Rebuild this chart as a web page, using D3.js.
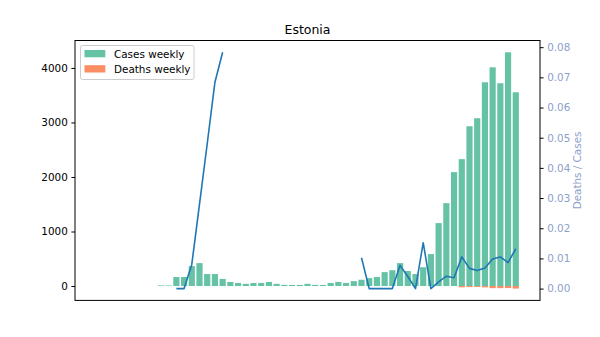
<!DOCTYPE html>
<html>
<head>
<meta charset="utf-8">
<script src="https://cdn.jsdelivr.net/npm/d3@7"></script>
<style>
  body { margin: 0; background: #fff; }
  svg { display: block; font-family: "DejaVu Sans", sans-serif; }
</style>
</head>
<body>
<svg id="chart" width="600" height="337"></svg>
<script>
const title = "Estonia";
const seriesNames = ["Cases weekly", "Deaths weekly"];
const rightLabel = "Deaths / Cases";

const casesWeekly = [0,0,0,0,0,0,0,0,12,12,
  165,165,365,420,220,220,130,75,55,40,
  55,55,75,40,20,20,20,40,20,20,
  55,75,55,90,115,145,165,255,290,420,
  275,220,345,586,1154,1520,2089,2327,2931,3078,
  3738,4012,3720,4287,3554];

const deathsWeekly = [0,0,0,0,0,0,0,0,0,0,
  0,0,0,0,0,0,0,0,0,0,
  0,0,0,0,0,0,0,0,0,0,
  0,0,0,0,0,0,0,0,0,0,
  0,0,0,0,0,0,0,24,20,18,
  25,39,39,37,47];

const deathsPerCases = [null,null,null,null,null,null,null,null,null,null,
  0,0,0.008,0.028,0.048,0.0684,0.0783,null,null,null,
  null,null,null,null,null,null,null,null,null,null,
  null,null,null,null,0.0102,0,0,0,0,0.0077,
  0.004,0,0.0152,0,0.0022,0.0041,0.0036,0.0105,0.0067,0.006,
  0.0068,0.0098,0.0105,0.0086,0.0132];

const leftTicks = [0, 1000, 2000, 3000, 4000];
const rightTicks = [0, 0.01, 0.02, 0.03, 0.04, 0.05, 0.06, 0.07, 0.08];

const colors = { cases: "#66c2a5", deaths: "#fc8d62", line: "#1f77b4", right: "#8da0cb" };

const W = 600, H = 337.5;
const m = { left: 75, right: 540, top: 40.5, bottom: 300.4 };
const svg = d3.select("#chart");

const n = casesWeekly.length;
const idx = d3.range(n);
const bw = 0.8;

function padded(lo, hi) { const p = (hi - lo) * 0.05; return [lo - p, hi + p]; }

const x = d3.scaleLinear()
  .domain(padded(-bw / 2, n - 1 + bw / 2))
  .range([m.left, m.right]);

const yMin = -d3.max(deathsWeekly), yMax = d3.max(casesWeekly);
const y = d3.scaleLinear().domain(padded(yMin, yMax)).range([m.bottom, m.top]);

const rMax = d3.max(deathsPerCases.filter(v => v != null));
const yr = d3.scaleLinear().domain(padded(0, rMax)).range([m.bottom, m.top]);

const bwPx = x(bw) - x(0);

// cases bars
svg.append("g").selectAll("rect").data(idx).join("rect")
  .attr("x", i => x(i) - bwPx / 2)
  .attr("width", bwPx)
  .attr("y", i => y(casesWeekly[i]))
  .attr("height", i => y(0) - y(casesWeekly[i]))
  .attr("fill", colors.cases);

// deaths bars (drawn downward)
svg.append("g").selectAll("rect").data(idx).join("rect")
  .attr("x", i => x(i) - bwPx / 2)
  .attr("width", bwPx)
  .attr("y", y(0))
  .attr("height", i => y(-deathsWeekly[i]) - y(0))
  .attr("fill", colors.deaths);

// ratio line
const line = d3.line()
  .defined(i => deathsPerCases[i] != null)
  .x(i => x(i))
  .y(i => yr(deathsPerCases[i]));
svg.append("path").datum(idx)
  .attr("d", line)
  .attr("fill", "none")
  .attr("stroke", colors.line)
  .attr("stroke-width", 1.6)
  .attr("stroke-linejoin", "round");

// frame
svg.append("rect")
  .attr("x", m.left).attr("y", m.top)
  .attr("width", m.right - m.left).attr("height", m.bottom - m.top)
  .attr("fill", "none").attr("stroke", "#000").attr("stroke-width", 1);

// left axis
const la = svg.append("g").attr("transform", `translate(${m.left},0)`)
  .call(d3.axisLeft(y).tickValues(leftTicks).tickSize(3.6).tickPadding(3.6).tickFormat(d3.format("d")));
la.select(".domain").remove();
la.selectAll("text").attr("font-size", 10.4).attr("fill", "#000").attr("font-family", "DejaVu Sans, sans-serif");
la.selectAll("line").attr("stroke", "#000");

// right axis
const ra = svg.append("g").attr("transform", `translate(${m.right},0)`)
  .call(d3.axisRight(yr).tickValues(rightTicks).tickSize(3.6).tickPadding(3.6).tickFormat(d3.format(".2f")));
ra.select(".domain").remove();
ra.selectAll("text").attr("font-size", 10.4).attr("fill", colors.right).attr("font-family", "DejaVu Sans, sans-serif");
ra.selectAll("line").attr("stroke", "#000");

svg.append("text")
  .attr("transform", `translate(581,${(m.top + m.bottom) / 2}) rotate(-90)`)
  .attr("text-anchor", "middle")
  .attr("font-size", 10.4)
  .attr("fill", colors.right)
  .text(rightLabel);

// title
svg.append("text")
  .attr("x", (m.left + m.right) / 2).attr("y", 34)
  .attr("text-anchor", "middle")
  .attr("font-size", 12.5)
  .attr("fill", "#000")
  .text(title);

// legend
const lg = svg.append("g");
lg.append("rect")
  .attr("x", 80.5).attr("y", 45.5).attr("width", 113.5).attr("height", 34)
  .attr("rx", 2).attr("fill", "#fff").attr("fill-opacity", 0.8)
  .attr("stroke", "#ccc").attr("stroke-width", 1);
[colors.cases, colors.deaths].forEach((c, k) => {
  lg.append("rect").attr("x", 84.5).attr("y", 50 + k * 15.2).attr("width", 20.8).attr("height", 7.3).attr("fill", c);
  lg.append("text").attr("x", 114).attr("y", 57.6 + k * 15.2)
    .attr("font-size", 10.4).attr("fill", "#000").text(seriesNames[k]);
});
</script>
</body>
</html>
